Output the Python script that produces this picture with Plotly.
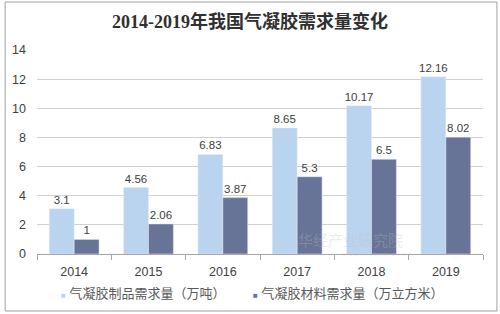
import plotly.graph_objects as go

years = ["2014", "2015", "2016", "2017", "2018", "2019"]
products = [3.1, 4.56, 6.83, 8.65, 10.17, 12.16]
materials = [1, 2.06, 3.87, 5.3, 6.5, 8.02]
names = ["气凝胶制品需求量（万吨）", "气凝胶材料需求量（万立方米）"]
colors = ["#BAD4EF", "#687497"]
title = "2014-2019年我国气凝胶需求量变化"

W, H = 500, 314
ml, mr, mt, mb = 35, 17, 50, 60
pw, ph = W - ml - mr, H - mt - mb

font = "Liberation Sans, Arial, Noto Sans CJK SC"

fig = go.Figure()
for vals, name, col in [(products, names[0], colors[0]), (materials, names[1], colors[1])]:
    fig.add_bar(x=years, y=vals, name=name, marker_color=col,
                text=[str(v) for v in vals], textposition="outside", constraintext="none",
                textfont=dict(size=11.5, color="#404040"), cliponaxis=False)


def px(x):
    return (x - ml) / pw


def py(y):
    return (H - mb - y) / ph


legend_anns = []
for name, col, x0 in [(names[0], colors[0], 57), (names[1], colors[1], 250)]:
    legend_anns.append(dict(
        text="<span style='font-size:8px;color:%s'>■</span> %s" % (col, name),
        xref="paper", yref="paper", x=px(x0), y=py(293), xanchor="left", yanchor="middle",
        showarrow=False, font=dict(size=13, color="#595959")))

fig.update_layout(
    width=W, height=H,
    margin=dict(l=ml, r=mr, t=mt, b=mb),
    paper_bgcolor="white", plot_bgcolor="white",
    barmode="group", bargap=0.33, bargroupgap=0,
    showlegend=False,
    font=dict(family=font, size=11, color="#404040"),
    title=dict(text="<b>" + title + "</b>", x=0.5, xanchor="center", y=1 - 22 / H, yanchor="middle",
               font=dict(family="Liberation Serif, Noto Sans CJK SC", size=18, color="#303030")),
    xaxis=dict(showline=True, linecolor="#A6A6A6", ticks="outside", tickson="boundaries",
               ticklen=5, tickcolor="#A6A6A6", tickfont=dict(size=12.5, color="#404040"),
               ticklabelstandoff=6),
    yaxis=dict(range=[0, 14], dtick=2, showgrid=True, gridcolor="#D0D0D0", zeroline=False,
               tickfont=dict(size=12.5, color="#404040"), ticks="", ticklabelstandoff=10),
    shapes=[dict(type="rect", xref="paper", yref="paper", x0=px(3), x1=px(497), y0=py(311), y1=py(2),
                 line=dict(color="#A0A0A0", width=1), layer="below")],
    annotations=legend_anns + [
        dict(text="华经产业研究院", xref="paper", yref="paper", x=px(405), y=py(251), showarrow=False,
             font=dict(size=15, color="rgba(190,190,190,0.3)")),
        dict(text="w w w . h u a o n . c o m", xref="paper", yref="paper", x=px(408), y=py(259), showarrow=False,
             font=dict(size=6, color="rgba(190,190,190,0.3)")),
    ],
)

fig.write_html("out.html")
